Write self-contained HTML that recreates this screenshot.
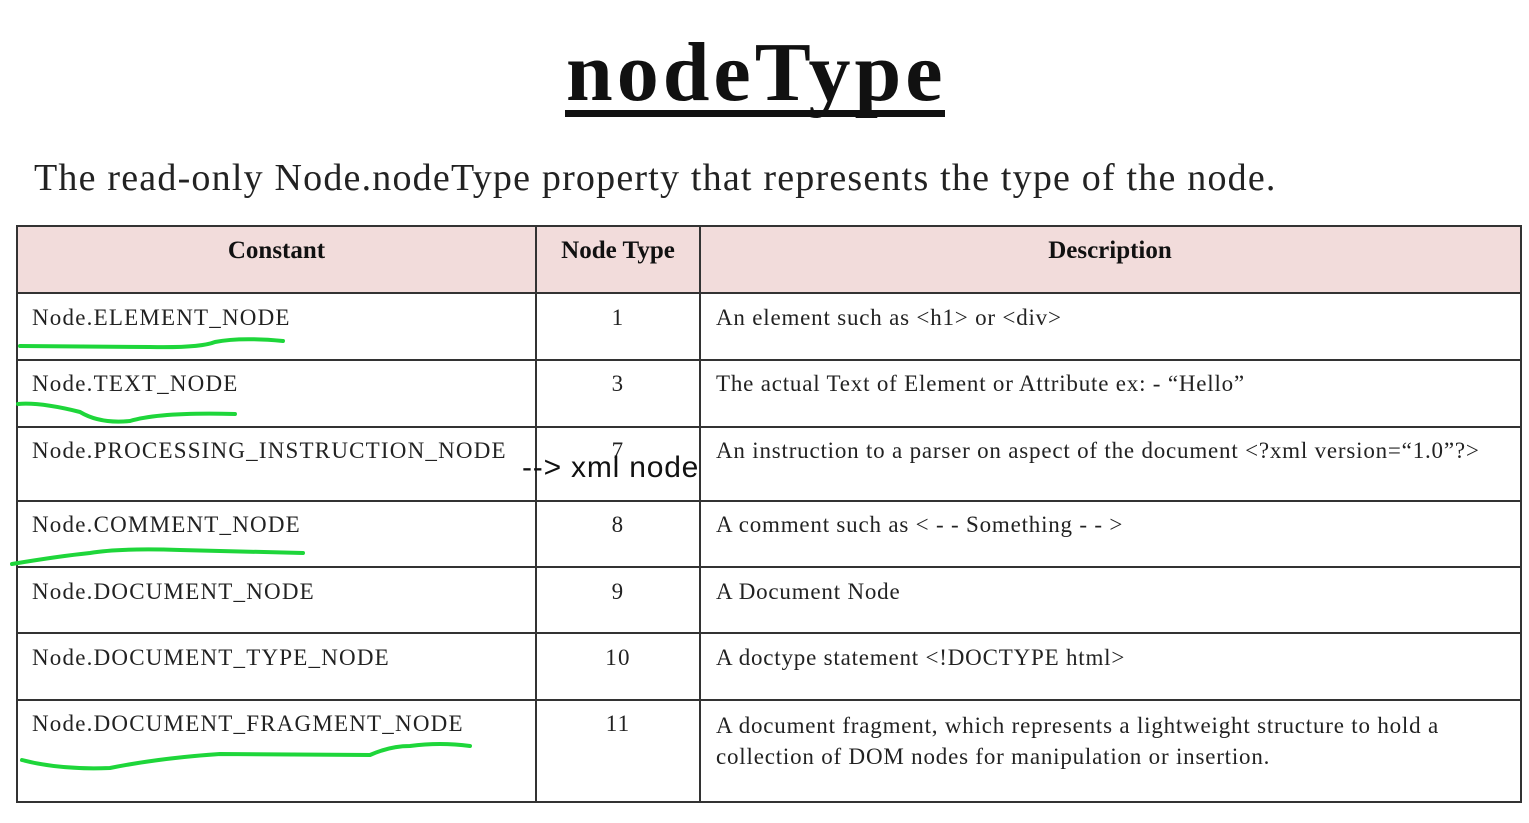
<!DOCTYPE html>
<html><head><style>
body{margin:0;width:1529px;height:823px;background:#fff;position:relative;overflow:hidden;font-family:"Liberation Serif",serif;color:#222}
.a{position:absolute;white-space:nowrap}
.h{position:absolute;background:#333}
.t{font-size:23px;letter-spacing:1.2px}
.d{letter-spacing:0.8px}
.hd{font-size:25px;font-weight:bold;color:#111}
</style></head><body>
<div class="a" style="left:566px;top:24px;font-size:84px;font-weight:bold;color:#111;letter-spacing:4px">nodeType</div>
<div class="h" style="left:565px;top:110px;width:380px;height:7px;background:#111"></div>
<div class="a" style="left:34px;top:156px;font-size:38px;color:#222;letter-spacing:1.2px">The read-only Node.nodeType property that represents the type of the node.</div>
<div class="a" style="left:17px;top:226px;width:1504px;height:67px;background:#f2dcdb"></div>
<div class="h" style="left:16px;top:225px;width:1506px;height:2px"></div>
<div class="h" style="left:16px;top:292px;width:1506px;height:2px"></div>
<div class="h" style="left:16px;top:359px;width:1506px;height:2px"></div>
<div class="h" style="left:16px;top:426px;width:1506px;height:2px"></div>
<div class="h" style="left:16px;top:500px;width:1506px;height:2px"></div>
<div class="h" style="left:16px;top:566px;width:1506px;height:2px"></div>
<div class="h" style="left:16px;top:632px;width:1506px;height:2px"></div>
<div class="h" style="left:16px;top:699px;width:1506px;height:2px"></div>
<div class="h" style="left:16px;top:801px;width:1506px;height:2px"></div>
<div class="h" style="left:16px;top:225px;width:2px;height:578px"></div>
<div class="h" style="left:535px;top:225px;width:2px;height:578px"></div>
<div class="h" style="left:699px;top:225px;width:2px;height:578px"></div>
<div class="h" style="left:1520px;top:225px;width:2px;height:578px"></div>
<div class="a hd" style="left:17px;width:519px;text-align:center;top:237px">Constant</div>
<div class="a hd" style="left:536px;width:164px;text-align:center;top:237px">Node Type</div>
<div class="a hd" style="left:700px;width:820px;text-align:center;top:237px">Description</div>
<div class="a t" style="left:32px;top:305px">Node.ELEMENT_NODE</div>
<div class="a t" style="left:32px;top:371px">Node.TEXT_NODE</div>
<div class="a t" style="left:32px;top:438px">Node.PROCESSING_INSTRUCTION_NODE</div>
<div class="a t" style="left:32px;top:512px">Node.COMMENT_NODE</div>
<div class="a t" style="left:32px;top:579px">Node.DOCUMENT_NODE</div>
<div class="a t" style="left:32px;top:645px">Node.DOCUMENT_TYPE_NODE</div>
<div class="a t" style="left:32px;top:711px">Node.DOCUMENT_FRAGMENT_NODE</div>
<div class="a t" style="left:536px;width:164px;text-align:center;top:305px">1</div>
<div class="a t" style="left:536px;width:164px;text-align:center;top:371px">3</div>
<div class="a t" style="left:536px;width:164px;text-align:center;top:438px">7</div>
<div class="a t" style="left:536px;width:164px;text-align:center;top:512px">8</div>
<div class="a t" style="left:536px;width:164px;text-align:center;top:579px">9</div>
<div class="a t" style="left:536px;width:164px;text-align:center;top:645px">10</div>
<div class="a t" style="left:536px;width:164px;text-align:center;top:711px">11</div>
<div class="a" style="left:522px;top:451px;font-family:'Liberation Sans',sans-serif;font-size:30px;color:#111;letter-spacing:0.8px">--&gt; xml node</div>
<div class="a t d" style="left:716px;top:305px">An element such as &lt;h1&gt; or &lt;div&gt;</div>
<div class="a t d" style="left:716px;top:371px">The actual Text of Element or Attribute ex: - “Hello”</div>
<div class="a t d" style="left:716px;top:438px">An instruction to a parser on aspect of the document &lt;?xml version=“1.0”?&gt;</div>
<div class="a t d" style="left:716px;top:512px">A comment such as &lt; - - Something - - &gt;</div>
<div class="a t d" style="left:716px;top:579px">A Document Node</div>
<div class="a t d" style="left:716px;top:645px">A doctype statement &lt;!DOCTYPE html&gt;</div>
<div class="a t d" style="left:716px;top:710px;line-height:31px">A document fragment, which represents a lightweight structure to hold a<br>collection of DOM nodes for manipulation or insertion.</div>
<svg class="a" style="left:0;top:0" width="1529" height="823">
<g fill="none" stroke="#1ed63a" stroke-width="4" stroke-linecap="round">
<path d="M20 346 L150 347 Q200 348 215 342 Q240 337 283 341"/>
<path d="M18 404 Q40 402 80 412 Q100 424 130 421 Q160 412 235 414"/>
<path d="M12 564 Q60 556 90 553 Q120 548 180 550 L303 553"/>
<path d="M22 760 Q60 770 110 768 Q160 758 220 754 L370 755 Q390 746 410 746 Q440 742 470 746"/>
</g></svg>
</body></html>
